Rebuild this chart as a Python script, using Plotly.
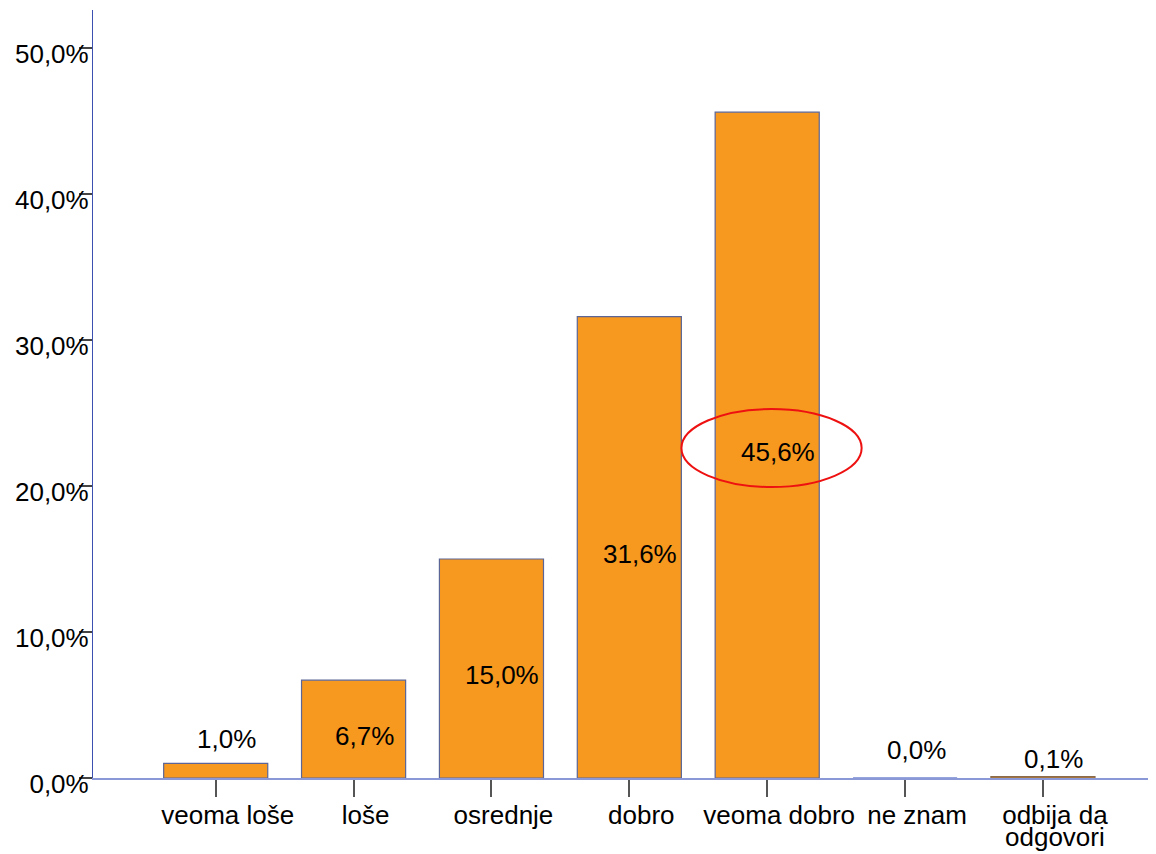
import plotly.graph_objects as go

categories = ["veoma loše", "loše", "osrednje", "dobro", "veoma dobro", "ne znam", "odbija da"]
category_second_line = ["", "", "", "", "", "", "odgovori"]
values = [1.0, 6.7, 15.0, 31.6, 45.6, 0.0, 0.1]
labels = ["1,0%", "6,7%", "15,0%", "31,6%", "45,6%", "0,0%", "0,1%"]
y_ticks = [0, 10, 20, 30, 40, 50]
y_tick_text = ["0,0%", "10,0%", "20,0%", "30,0%", "40,0%", "50,0%"]

FONT = "Liberation Sans, Arial, sans-serif"
FS = 26
line_colors = ["#5B6696"] * 5 + ["#2E4DB8", "#8A6A4A"]
small_label_shift = [24, 0, 0, 0, 0, 28, 18]

x_idx = list(range(len(categories)))

fig = go.Figure()
fig.add_trace(go.Bar(
    x=x_idx, y=values,
    marker=dict(color="#F7981F", line=dict(color=line_colors, width=1.2)),
    width=0.755,
    hoverinfo="skip",
))

for i, (v, t) in enumerate(zip(values, labels)):
    if v >= 5:
        fig.add_annotation(x=i, y=v / 2, text=t, showarrow=False, xshift=11, yshift=-7,
                           font=dict(family=FONT, size=FS, color="black"))
    else:
        fig.add_annotation(x=i, y=v, text=t, showarrow=False, xshift=11, yshift=small_label_shift[i],
                           font=dict(family=FONT, size=FS, color="black"))

# second line of wrapped category labels (tight line spacing as in the original)
for i, t in enumerate(category_second_line):
    if t:
        fig.add_annotation(x=i, y=0, yref="y", text=t, showarrow=False, xshift=12, yshift=-59,
                           font=dict(family=FONT, size=FS, color="black"))

# red ellipse highlight
fig.add_shape(type="circle", xref="x", yref="y", x0=3.378, x1=4.685, y0=19.93, y1=25.27,
              line=dict(color="#EE1111", width=2), fillcolor="rgba(0,0,0,0)")

fig.update_layout(
    width=1148, height=846,
    margin=dict(l=85, r=0, t=2, b=76, autoexpand=False),
    paper_bgcolor="white", plot_bgcolor="white",
    showlegend=False,
    font=dict(family=FONT, size=FS, color="black"),
    bargap=0.245,
)
fig.update_xaxes(
    range=[-0.89, 6.82], automargin=False,
    tickmode="array", tickvals=x_idx, ticktext=categories,
    ticks="outside", ticklen=17, tickcolor="#555555", tickwidth=1.5,
    ticklabelstandoff=-4, ticklabelshift=12,
    showline=True, linecolor="#8A98D8", linewidth=1.5,
    showgrid=False, zeroline=False,
    tickfont=dict(family=FONT, size=FS, color="black"),
)
fig.update_yaxes(
    range=[0, 52.6], automargin=False,
    tickmode="array", tickvals=y_ticks, ticktext=y_tick_text,
    ticks="outside", ticklen=13, tickcolor="#444444", tickwidth=1.5,
    ticklabelstandoff=-15, ticklabelshift=6,
    showline=True, linecolor="#3B50B0", linewidth=1.2,
    showgrid=False, zeroline=False,
    tickfont=dict(family=FONT, size=FS, color="black"),
)

fig.write_html("out.html")
